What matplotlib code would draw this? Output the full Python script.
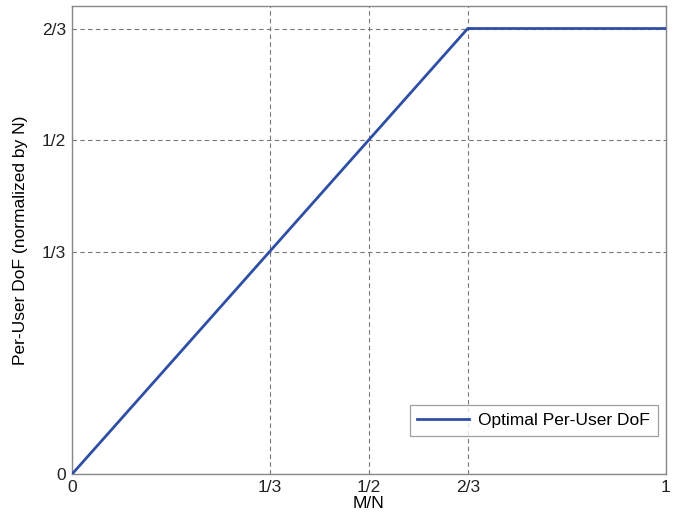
import matplotlib
matplotlib.use('Agg')
import matplotlib.pyplot as plt

# ── Data ─────────────────────────────────────────────────────
mn = [0, 2/3, 1]
dof = [0, 2/3, 2/3]
tick_vals = [0, 1/3, 1/2, 2/3]
xtick_vals = [0, 1/3, 1/2, 2/3, 1]
xtick_labels = ['0', '1/3', '1/2', '2/3', '1']
ytick_labels = ['0', '1/3', '1/2', '2/3']

plt.rcParams['font.family'] = ['Liberation Sans', 'DejaVu Sans']

fig = plt.figure(figsize=(6.8, 5.18), dpi=100)
ax = fig.add_axes([0.1055, 0.084, 0.8735, 0.904])

ax.plot(mn, dof, color='#2f4fa6', lw=2.0, label='Optimal Per-User DoF', zorder=3)

ax.set_xlim(0, 1)
ax.set_ylim(0, 0.7)
ax.set_xticks(xtick_vals)
ax.set_xticklabels(xtick_labels, fontsize=12.5)
ax.set_yticks(tick_vals)
ax.set_yticklabels(ytick_labels, fontsize=12.5)
ax.tick_params(length=0, pad=4, colors='#222222')

ax.grid(True, color='#777777', ls=(0, (4, 3)), lw=0.8)
for sp in ax.spines.values():
    sp.set_edgecolor('#888888')
    sp.set_linewidth(1.0)

ax.set_xlabel('M/N', fontsize=12.5, labelpad=1)
ax.set_ylabel('Per-User DoF (normalized by N)', fontsize=12.5, labelpad=10)

leg = ax.legend(loc='lower right', bbox_to_anchor=(0.9865, 0.082), fontsize=12.5,
                frameon=True, fancybox=False, handlelength=3.0, borderpad=0.45,
                borderaxespad=0, handletextpad=0.5)
leg.get_frame().set_edgecolor('#888888')
leg.get_frame().set_linewidth(0.9)

plt.savefig('out.png', dpi=100)
